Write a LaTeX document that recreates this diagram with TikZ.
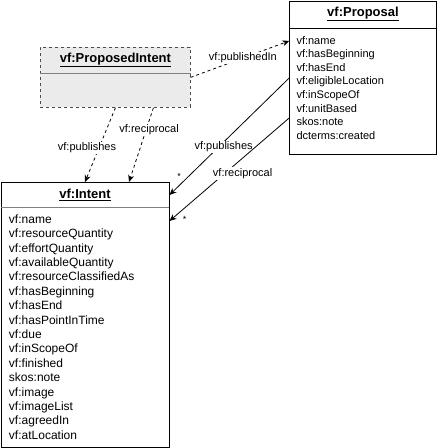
\documentclass[tikz,border=0pt]{standalone}
\usepackage{fontspec}
\setmainfont{Liberation Sans}
\usepackage{xcolor}
\usepackage{tikz}
\usetikzlibrary{positioning, arrows.meta}

\definecolor{sepgray}{HTML}{808080}
\definecolor{pifill}{HTML}{EBEBEB}

\begin{document}
\begin{tikzpicture}[x=1pt, y=-1pt]
			
			% Styles
			\tikzset{
				classbox/.style={
					rectangle, draw, line width=1pt, anchor=north west, inner sep=0pt
				},
				classhead/.style={
					rectangle, draw=none, inner sep=0pt, anchor=north,
					font=\bfseries\fontsize{13}{15}\selectfont
				},
				attrlist/.style={
					anchor=north west, align=left, inner sep=0pt,
					font=\fontsize{12}{14.4}\selectfont
				},
				sepline/.style={draw=sepgray, line width=1.5pt},
				arrow/.style={line width=0.8pt, -{Stealth[length=7pt, width=6pt]}},
				dasharrow/.style={arrow, dash pattern=on 3pt off 3pt},
				edgelabel/.style={fill=white, inner sep=1pt, font=\fontsize{11}{13}\selectfont},
				mult/.style={inner sep=0pt, font=\fontsize{9}{9}\selectfont}
			}
			
			\useasboundingbox (0,0) rectangle (437,448);
			
			% Proposal
			\node (proposal) [classbox, minimum width=147pt, minimum height=153pt] at (289,0.5) {};
			\node (prophead) [classhead, minimum width=147pt, minimum height=27pt] at (proposal.north) {\underline{vf:Proposal}};
			\draw (prophead.south west) -- (prophead.south east);
			\node (propattr) [attrlist, font=\fontsize{11}{13.6}\selectfont, below right=8pt and 7pt of prophead.south west] {vf:name\\vf:hasBeginning\\vf:hasEnd\\vf:eligibleLocation\\vf:inScopeOf\\vf:unitBased\\skos:note\\dcterms:created};
			
			% Proposed intent
			\node (pi) [classbox, draw=black!70, line width=0.8pt, dash pattern=on 3pt off 3pt, fill=pifill, minimum width=150pt, minimum height=60pt] at (40,47) {};
			\node (pihead) [classhead, minimum width=150pt, minimum height=26pt] at (pi.north) {\underline{vf:ProposedIntent}};
			\draw[sepline] (pihead.south west) -- (pihead.south east);
			
			% Intent
			\node (intent) [classbox, minimum width=168pt, minimum height=265pt] at (0.5,182) {};
			\node (intenthead) [classhead, minimum width=168pt, minimum height=25pt] at (intent.north) {\underline{vf:Intent}};
			\draw[sepline] (intenthead.south west) -- (intenthead.south east);
			\node (intentattr) [attrlist, below right=7pt and 8pt of intenthead.south west] {vf:name\\vf:resourceQuantity\\vf:effortQuantity\\vf:availableQuantity\\vf:resourceClassifiedAs\\vf:hasBeginning\\vf:hasEnd\\vf:hasPointInTime\\vf:due\\vf:inScopeOf\\vf:finished\\skos:note\\vf:image\\vf:imageList\\vf:agreedIn\\vf:atLocation};
			
			% Arrows with labels
			\draw[dasharrow] ([yshift=-4pt]pihead.south east) -- node[edgelabel, pos=0.53] {vf:publishedIn} ([yshift=-13pt]prophead.south west);
			\draw[dasharrow] (pi.south) -- node[edgelabel, pos=0.54, xshift=-12pt] {vf:publishes} (intent.north);
			\draw[dasharrow] ([xshift=38pt]pi.south) -- node[edgelabel, pos=0.3, xshift=3pt] {vf:reciprocal} ([xshift=44pt]intent.north);
			\draw[arrow] ([yshift=-50pt]prophead.south west) -- node[edgelabel, pos=0.59, xshift=5pt] {vf:publishes} node[mult, pos=0.92, yshift=9pt] {*} ([yshift=-13pt]intent.north east);
			\draw[arrow] ([yshift=-90pt]prophead.south west) -- node[edgelabel, pos=0.54, xshift=18pt] {vf:reciprocal} node[mult, pos=0.92, xshift=5.5pt, yshift=-7pt] {*} ([yshift=-39pt]intent.north east);
			
		\end{tikzpicture}
\end{document}
